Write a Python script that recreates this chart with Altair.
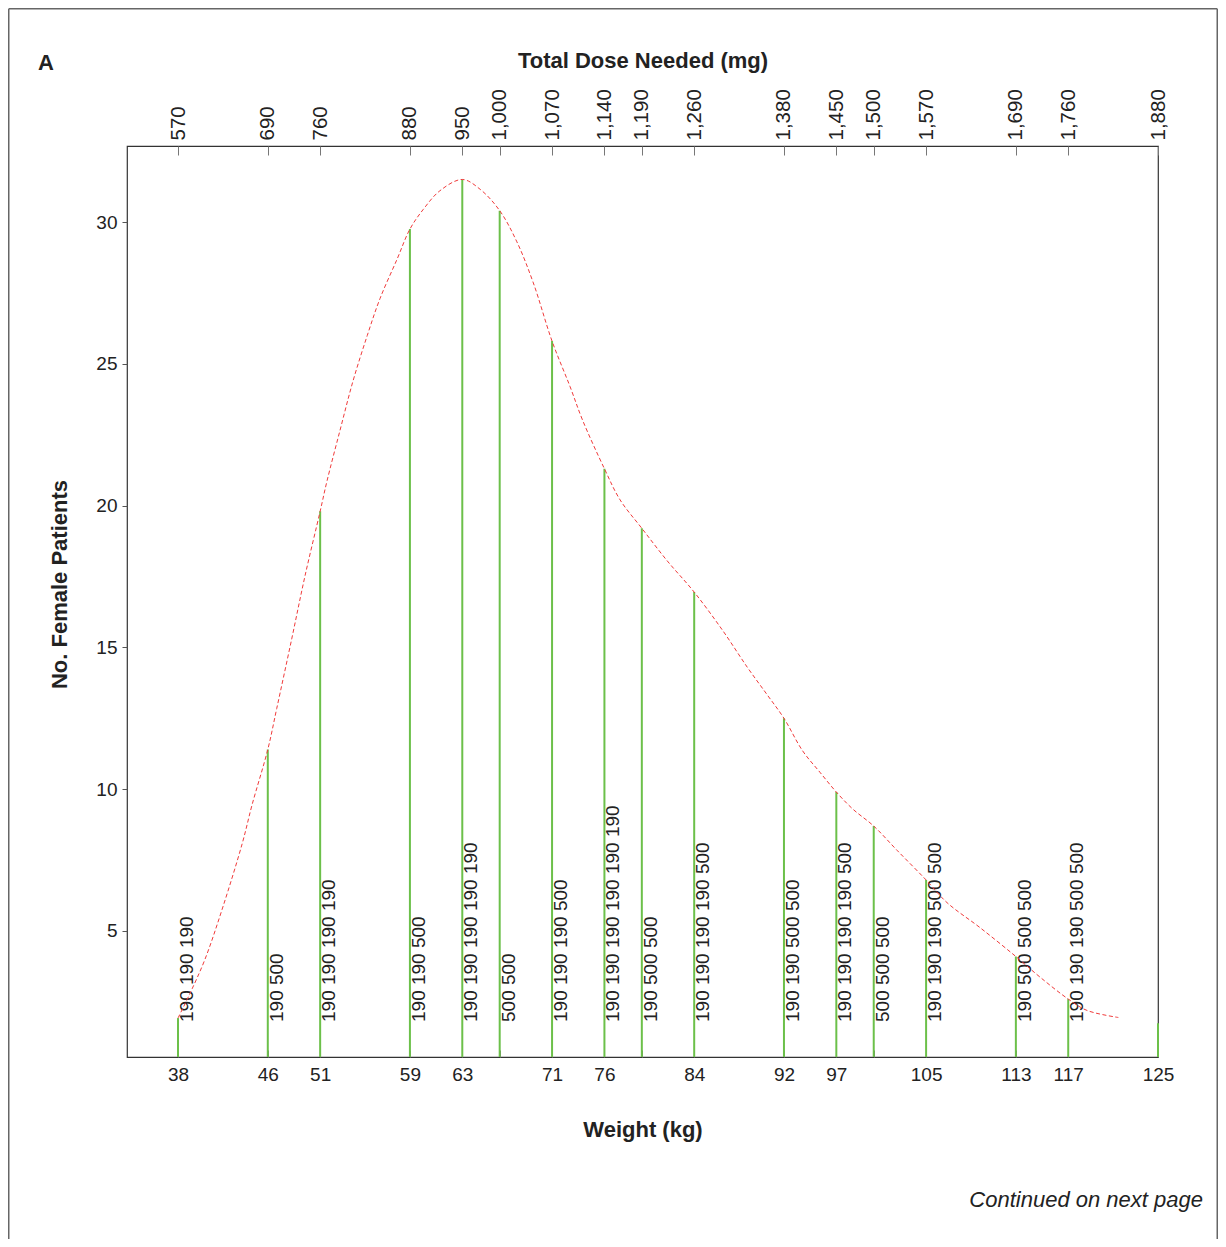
import altair as alt
import pandas as pd

# ---- data ----
doses = [570, 690, 760, 880, 950, 1000, 1070, 1140, 1190, 1260, 1380, 1450, 1500, 1570, 1690, 1760, 1880]
weights = ["38", "46", "51", "59", "63", "", "71", "76", "", "84", "92", "97", "", "105", "113", "117", "125"]
counts = [1.93, 11.4, 19.8, 29.75, 31.5, 30.4, 25.8, 21.3, 19.2, 16.95, 12.5, 9.9, 8.7, 6.8, 4.1, 2.6, 1.75]
vials = ["190 190 190", "190 500", "190 190 190 190", "190 190 500", "190 190 190 190 190",
         "500 500", "190 190 190 500", "190 190 190 190 190 190", "190 500 500",
         "190 190 190 190 500", "190 190 500 500", "190 190 190 190 500", "500 500 500",
         "190 190 190 500 500", "190 500 500 500", "190 190 190 500 500", ""]

curve_dose = [570, 586, 606, 630, 656, 669, 690, 702, 722, 740, 760, 769, 787, 804, 823, 840, 863,
              880, 898, 920, 950, 974, 1000, 1023, 1045, 1070, 1094, 1111, 1140, 1161, 1190, 1224,
              1260, 1298, 1331, 1357, 1380, 1405, 1428, 1450, 1472, 1500, 1531, 1570, 1598, 1642,
              1690, 1722, 1760, 1785, 1827]
curve_n = [1.93, 2.8, 4.0, 5.85, 8.1, 9.45, 11.4, 12.85, 15.3, 17.55, 19.8, 20.85, 22.7, 24.4,
           26.0, 27.3, 28.7, 29.75, 30.45, 31.1, 31.5, 31.15, 30.4, 29.3, 27.85, 25.8, 24.2, 23.0,
           21.3, 20.2, 19.2, 18.05, 16.95, 15.6, 14.3, 13.35, 12.5, 11.35, 10.6, 9.9, 9.3, 8.7,
           7.85, 6.8, 6.0, 5.12, 4.1, 3.38, 2.6, 2.2, 1.95]

y_ticks = [5, 10, 15, 20, 25, 30]
X_DOMAIN = [501.8, 1880]
Y_DOMAIN = [0.557, 32.68]

W, H = 1031, 911
PAD = {"left": 119, "top": 138, "right": 60, "bottom": 182}
FONT = "Liberation Sans"
INK = "#222222"

bars_df = pd.DataFrame({"dose": doses, "weight": weights, "n": counts, "vials": vials})
curve_df = pd.DataFrame({"dose": curve_dose, "n": curve_n})
one = pd.DataFrame({"k": [0]})

xscale = alt.Scale(domain=X_DOMAIN, nice=False, zero=False)
yscale = alt.Scale(domain=Y_DOMAIN, nice=False, zero=False)

label_expr = ("[" + ",".join("'" + w + "'" for w in weights) + "][indexof(["
              + ",".join(str(d) for d in doses) + "], datum.value)]")

bottom_axis = alt.Axis(orient="bottom", values=doses, labelExpr=label_expr, title="Weight (kg)",
                       offset=-7, tickSize=7, domain=False, grid=False, labelPadding=8,
                       labelFontSize=19, titleFontSize=22, titleFontWeight="bold",
                       titlePadding=35, tickColor="#777777", labelColor=INK,
                       titleColor=INK, labelAngle=0, labelOverlap=False, labelFlush=False,
                       labelBound=False)
top_axis = alt.Axis(orient="top", values=doses, format=",.0f", title="Total Dose Needed (mg)",
                    offset=-9, tickSize=9, domain=False, grid=False, labelPadding=6,
                    labelAngle=270, labelAlign="left", labelBaseline="middle",
                    labelFontSize=20.5, titleFontSize=22, titleFontWeight="bold",
                    titlePadding=16, tickColor="#777777", labelColor=INK,
                    titleColor=INK, labelOverlap=False, labelFlush=False, labelBound=False)
y_axis = alt.Axis(orient="left", values=y_ticks, title="No. Female Patients", tickSize=5,
                  domain=False, grid=False, labelPadding=5, labelFontSize=19, titleFontSize=22,
                  titleFontWeight="bold", titlePadding=24, titleY=438, tickColor="#555555",
                  labelColor=INK, titleColor=INK)

rules = alt.Chart(bars_df).mark_rule(color="#6cc04a", strokeWidth=2).encode(
    x=alt.X("dose:Q", scale=xscale, axis=bottom_axis),
    y=alt.Y("n:Q", scale=yscale, axis=y_axis),
    y2=alt.datum(Y_DOMAIN[0]),
)

texts = alt.Chart(bars_df).mark_text(angle=270, align="left", baseline="alphabetic", dy=15,
                                     fontSize=19, font=FONT, color=INK).encode(
    x=alt.X("dose:Q", scale=xscale, axis=None),
    y=alt.value(H - 35),
    text="vials:N",
)

curve = alt.Chart(curve_df).mark_line(color="#f03a3a", strokeWidth=1, strokeDash=[4, 2.5],
                                      interpolate="catmull-rom").encode(
    x=alt.X("dose:Q", scale=xscale, axis=top_axis),
    y=alt.Y("n:Q", scale=yscale, axis=y_axis),
)

panel_label = alt.Chart(one).mark_text(text="A", fontSize=22, fontWeight="bold", font=FONT,
                                       align="left", baseline="alphabetic", color=INK).encode(
    x=alt.value(-89), y=alt.value(-76))

continued = alt.Chart(one).mark_text(text="Continued on next page", fontSize=22,
                                     fontStyle="italic", font=FONT, align="right",
                                     baseline="alphabetic", color=INK).encode(
    x=alt.value(1076), y=alt.value(1061))

# outer figure border (kept inside the drawable SVG area)
FL = -PAD["left"] + 0.75
FT = -PAD["top"] + 0.75
FR = W + PAD["right"] - 0.75
FB = H + PAD["bottom"]
frame_style = dict(color="#666666", strokeWidth=1.5)
frame_left = alt.Chart(one).mark_rule(**frame_style).encode(
    x=alt.value(FL), y=alt.value(FT), y2=alt.value(FB))
frame_right = alt.Chart(one).mark_rule(**frame_style).encode(
    x=alt.value(FR), y=alt.value(FT), y2=alt.value(FB))
frame_top = alt.Chart(one).mark_rule(**frame_style).encode(
    x=alt.value(FL), x2=alt.value(FR), y=alt.value(FT))

chart = alt.layer(rules, texts, curve, panel_label, continued,
                  frame_left, frame_right, frame_top).resolve_axis(
    x="independent"
).properties(
    width=W, height=H,
    autosize=alt.AutoSizeParams(type="none"),
    padding=PAD,
).configure(font=FONT).configure_view(stroke="#333333", strokeWidth=1.2)

chart.save("out.html", embed_options={"renderer": "svg", "actions": False})
